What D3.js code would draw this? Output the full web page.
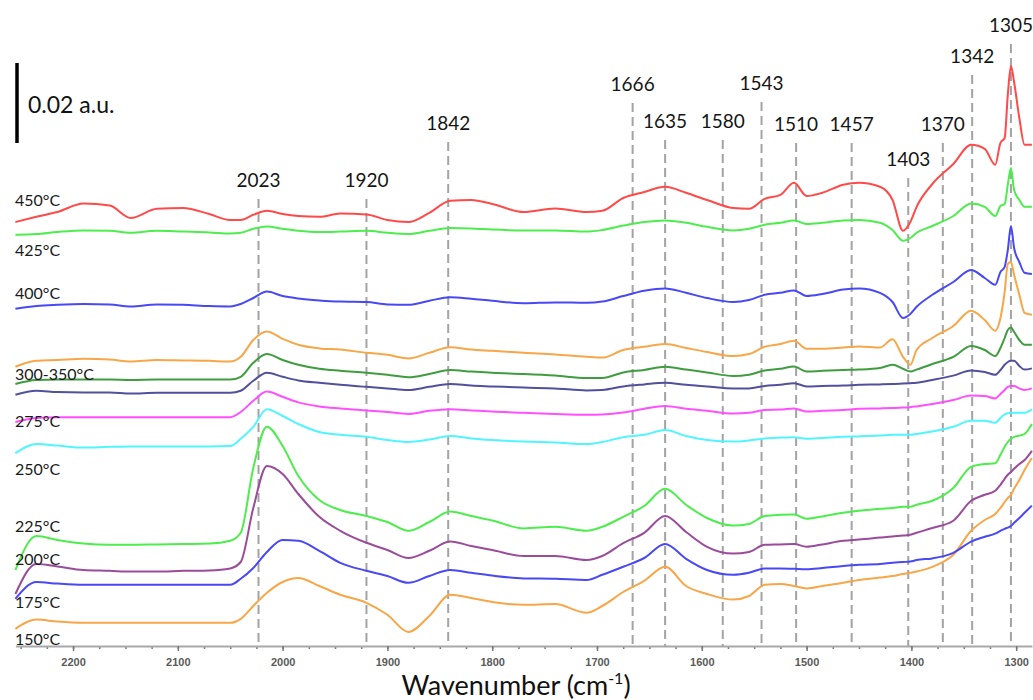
<!DOCTYPE html>
<html>
<head>
<meta charset="utf-8">
<script src="https://cdn.jsdelivr.net/npm/d3@7"></script>
<style>
  body { margin: 0; background: #fff; }
  svg { display: block; }
</style>
</head>
<body>
<svg id="chart" width="1033" height="700"></svg>
<script>
// Wavenumber grid (cm-1) shared by every spectrum
const wavenumbers = [
  2255, 2235, 2215, 2190, 2165, 2145, 2120, 2095, 2070, 2050,
  2040, 2028, 2015, 2000, 1985, 1965, 1945, 1920, 1900, 1880,
  1860, 1840, 1820, 1800, 1770, 1740, 1710, 1695, 1675, 1655,
  1635, 1615, 1595, 1570, 1555, 1540, 1525, 1512, 1500, 1485,
  1465, 1450, 1430, 1418, 1408, 1401, 1395, 1380, 1360, 1343,
  1330, 1320, 1315, 1311, 1308, 1305, 1302, 1297, 1292, 1285
];

// Stacked absorbance, in 10^-3 a.u. (offsets included)
const s450 = [
  106.0, 107.3, 108.5, 110.6, 110.1, 107.0, 109.3, 109.5, 108.0, 106.5,
  106.5, 107.8, 108.8, 108.0, 107.5, 107.3, 108.1, 107.9, 106.5, 106.0,
  108.3, 111.3, 111.5, 110.5, 108.5, 109.4, 108.5, 108.8, 112.0, 113.5,
  114.8, 113.3, 111.5, 109.5, 109.3, 111.8, 112.8, 115.8, 112.5, 113.3,
  115.3, 115.8, 114.8, 111.5, 103.8, 106.0, 109.8, 115.5, 120.5, 125.3,
  124.3, 120.3, 125.8, 127.0, 137.8, 145.0, 141.0, 132.0, 125.3, 125.3
];
const s425 = [
  102.8, 103.0, 103.5, 103.9, 103.8, 103.3, 103.8, 103.6, 103.4, 103.1,
  103.3, 104.3, 104.9, 104.3, 103.8, 103.5, 103.6, 103.8, 103.3, 103.0,
  103.8, 104.5, 104.4, 104.1, 103.9, 103.9, 103.6, 104.0, 105.1, 106.0,
  106.4, 105.8, 104.8, 103.9, 104.3, 105.3, 105.8, 106.4, 105.5, 105.8,
  106.4, 106.5, 105.8, 104.0, 101.3, 102.0, 103.3, 105.0, 107.5, 110.6,
  109.8, 107.5, 110.0, 110.5, 115.3, 119.5, 114.0, 111.5, 109.8, 109.8
];
const s400 = [
  84.3, 85.0, 85.3, 85.5, 85.4, 84.9, 85.4, 85.3, 85.0, 84.9,
  85.5, 87.0, 88.6, 87.5, 86.9, 86.4, 86.1, 86.0, 85.4, 85.3,
  86.3, 87.2, 86.8, 86.3, 85.7, 85.9, 85.8, 86.1, 87.5, 88.8,
  89.4, 88.3, 87.0, 86.0, 86.5, 87.8, 88.3, 88.9, 87.5, 88.0,
  89.1, 89.4, 88.3, 86.0, 82.0, 83.0, 84.8, 87.8, 91.0, 94.0,
  92.0, 90.3, 93.5, 94.8, 99.0, 105.0, 99.5, 96.0, 93.3, 93.0
];
const s350 = [
  69.8, 71.3, 71.5, 71.8, 71.6, 71.1, 71.5, 71.4, 71.3, 71.1,
  72.3, 76.5, 78.6, 76.8, 75.3, 74.4, 74.1, 73.3, 72.8, 71.9,
  73.3, 74.7, 74.1, 73.8, 73.3, 72.9, 72.3, 72.1, 74.0, 74.8,
  75.5, 74.5, 73.5, 72.5, 73.0, 74.8, 75.5, 76.3, 74.3, 74.3,
  74.6, 74.9, 74.6, 76.7, 72.3, 70.3, 74.0, 77.0, 80.0, 83.8,
  81.5, 78.8, 82.0, 88.5, 95.5, 96.0, 92.8, 87.8, 83.3, 82.8
];
const s325 = [
  65.5, 66.5, 66.6, 66.6, 66.6, 66.5, 66.6, 66.6, 66.6, 66.6,
  67.3, 70.8, 73.0, 71.5, 70.3, 69.3, 68.8, 68.3, 67.8, 67.2,
  68.0, 69.0, 68.6, 68.3, 68.0, 67.6, 67.0, 67.0, 68.4, 69.0,
  69.8, 69.1, 68.4, 67.5, 67.8, 68.9, 69.3, 69.9, 68.6, 68.8,
  69.0, 69.1, 69.5, 70.3, 69.3, 68.6, 69.1, 70.5, 72.3, 75.0,
  74.0, 72.5, 74.5, 77.0, 79.0, 79.6, 78.5, 76.5, 75.3, 75.3
];
const s300 = [
  62.8, 63.8, 63.5, 63.4, 63.4, 63.1, 63.3, 63.3, 63.3, 63.3,
  63.8, 66.3, 68.3, 67.3, 66.4, 65.8, 65.3, 64.8, 64.4, 64.0,
  64.8, 65.5, 65.1, 64.9, 64.6, 64.4, 63.9, 64.0, 64.9, 65.4,
  65.8, 65.3, 64.9, 64.4, 64.4, 65.0, 65.3, 65.7, 64.9, 65.0,
  65.1, 65.3, 65.4, 65.5, 65.6, 65.7, 65.8, 66.5, 67.6, 68.9,
  68.5, 67.8, 69.0, 70.3, 71.0, 71.3, 71.3, 70.0, 69.1, 69.4
];
const s275 = [
  56.0, 57.0, 57.2, 57.2, 57.2, 57.2, 57.2, 57.2, 57.2, 57.2,
  58.5, 61.3, 63.6, 62.3, 60.9, 59.9, 59.4, 58.9, 58.5, 58.0,
  58.8, 59.2, 58.9, 58.6, 58.3, 58.0, 57.8, 57.9, 58.4, 59.3,
  60.0, 59.3, 58.8, 58.1, 58.3, 59.0, 59.1, 59.4, 58.6, 58.8,
  59.0, 59.3, 59.4, 59.5, 59.6, 59.7, 59.9, 60.5, 61.5, 62.6,
  62.5, 61.9, 63.0, 64.0, 64.8, 65.0, 65.0, 64.4, 64.0, 64.4
];
const s250 = [
  48.2, 50.5, 50.1, 49.6, 49.8, 49.9, 49.9, 49.9, 49.9, 50.0,
  51.8, 54.8, 59.2, 57.5, 55.5, 53.5, 52.8, 52.3, 51.5, 51.0,
  51.6, 52.5, 51.9, 51.5, 51.1, 50.9, 50.5, 51.0, 52.2, 52.8,
  54.0, 52.5, 51.5, 51.1, 51.4, 51.9, 52.1, 52.2, 51.8, 52.0,
  52.3, 52.4, 52.6, 52.8, 52.8, 52.8, 53.0, 53.6, 54.8, 56.3,
  56.3, 55.8, 57.0, 57.9, 58.2, 58.3, 58.3, 58.3, 58.3, 59.2
];
const s225 = [
  19.0, 27.5, 26.5, 25.6, 25.3, 25.3, 25.4, 25.5, 25.6, 26.3,
  28.3, 44.5, 54.8, 50.0, 42.5, 36.5, 34.0, 32.5, 31.0, 28.8,
  31.0, 33.6, 32.5, 31.4, 29.4, 29.8, 28.8, 29.8, 32.3, 35.0,
  39.3, 35.3, 32.0, 30.1, 30.5, 32.5, 32.8, 32.9, 31.8, 32.4,
  33.3, 33.8, 34.3, 34.5, 34.8, 34.8, 35.3, 36.3, 39.5, 44.8,
  45.5, 45.7, 47.8, 49.8, 51.0, 51.8, 52.3, 52.6, 53.0, 55.5
];
const s200 = [
  13.0, 20.5, 19.9, 19.0, 18.8, 18.6, 18.6, 18.8, 18.9, 19.4,
  21.0, 34.5, 45.0, 43.0, 38.0, 32.3, 28.8, 25.8, 24.0, 22.0,
  23.8, 26.1, 25.0, 24.0, 22.5, 22.5, 21.5, 22.5, 25.7, 28.3,
  32.5, 28.5, 24.8, 23.1, 23.5, 25.3, 25.4, 25.5, 24.8, 25.4,
  26.3, 26.6, 27.1, 27.4, 27.6, 27.8, 28.3, 29.5, 31.3, 36.3,
  37.8, 38.8, 40.3, 41.8, 42.8, 43.5, 44.3, 45.5, 46.5, 48.8
];
const s175 = [
  11.8, 16.0, 15.6, 15.3, 15.3, 15.3, 15.3, 15.3, 15.3, 15.3,
  16.8, 19.5, 23.5, 26.5, 26.3, 23.8, 20.8, 18.8, 17.5, 15.8,
  17.5, 19.0, 18.3, 17.6, 16.9, 16.8, 16.5, 17.8, 19.8, 22.0,
  25.5, 21.8, 19.0, 17.8, 18.3, 19.4, 19.4, 19.3, 19.2, 19.5,
  20.0, 20.3, 20.5, 20.8, 21.0, 21.1, 21.5, 21.9, 23.3, 26.1,
  27.3, 28.1, 28.8, 29.3, 29.6, 30.0, 30.8, 32.0, 33.3, 35.1
];
const s150 = [
  4.3, 6.6, 6.1, 5.8, 5.8, 5.8, 5.8, 5.8, 5.8, 5.8,
  6.8, 10.0, 13.3, 16.0, 17.0, 15.0, 12.8, 10.8, 7.8, 3.5,
  7.5, 12.8, 12.0, 11.0, 10.3, 10.5, 8.3, 10.0, 13.5, 16.3,
  19.8, 15.0, 13.0, 11.6, 12.5, 15.3, 15.5, 15.0, 14.4, 15.0,
  15.8, 16.5, 17.1, 17.5, 18.0, 18.3, 18.6, 19.8, 22.8, 28.8,
  31.5, 33.0, 34.5, 36.0, 37.0, 37.8, 39.3, 41.5, 44.0, 47.0
];

const seriesNames = ["450°C", "425°C", "400°C", "350°C", "325°C", "300°C",
                     "275°C", "250°C", "225°C", "200°C", "175°C", "150°C"];
const seriesValues = [s450, s425, s400, s350, s325, s300,
                      s275, s250, s225, s200, s175, s150];

// Temperature captions on the left and the stacked level they sit at (10^-3 a.u.)
const tempLabels = ["450°C", "425°C", "400°C", "300-350°C", "275°C",
                    "250°C", "225°C", "200°C", "175°C", "150°C"];
const tempLabelLevels = [110, 97.5, 86.75, 66.5, 54.75, 42.75, 28.5, 20.25, 9.5, 0.3];

// Assigned band positions (cm-1)
const peaks = [2023, 1920, 1842, 1666, 1635, 1580, 1543, 1510, 1457, 1403, 1370, 1342, 1305];

// Axis ticks
const tickValues = [2200, 2100, 2000, 1900, 1800, 1700, 1600, 1500, 1400, 1300];
const minorTickValues = d3.range(2250, 1284, -25);

const scaleBarValue = 20; // 0.02 a.u.

// ---- styles & layout ----
const palette = ["#ff4a4a", "#4ded4d", "#4848f4", "#f7a648", "#3f9c3f", "#50509c",
                 "#ff50ff", "#50f5ff", "#4ded4d", "#9a4c9a", "#4848f4", "#f7a648"];
const peakLabelBaseline = [187, 187, 130, 91, 128, 128, 90, 131, 131, 166, 131, 63, 32];
const FONT = "Lato, 'Open Sans', sans-serif";

const svg = d3.select("#chart");
const x = d3.scaleLinear().domain([2255, 1285]).range([15.4, 1031.9]);
const y = d3.scaleLinear().domain([0, 160]).range([646, 6]);

// Dashed band markers
svg.append("g")
  .selectAll("line")
  .data(peaks)
  .join("line")
  .attr("x1", d => x(d)).attr("x2", d => x(d))
  .attr("y1", (d, i) => peakLabelBaseline[i] + 12)
  .attr("y2", y(0))
  .attr("stroke", "#a3a3a3")
  .attr("stroke-width", 2)
  .attr("stroke-dasharray", "9,5");

svg.append("g")
  .selectAll("text")
  .data(peaks)
  .join("text")
  .attr("x", d => x(d))
  .attr("y", (d, i) => peakLabelBaseline[i])
  .attr("text-anchor", "middle")
  .style("font-family", FONT)
  .style("font-size", "19px")
  .style("fill", "#151515")
  .text(d => d);

// Axis
const axisG = svg.append("g").attr("transform", `translate(0,${y(0)})`);
axisG.append("g")
  .call(d3.axisBottom(x).tickValues(minorTickValues).tickSize(3).tickFormat("").tickSizeOuter(0))
  .call(g => g.select(".domain").remove())
  .call(g => g.selectAll(".tick line").attr("stroke", "#777").attr("stroke-width", 1.5));
axisG.append("g")
  .call(d3.axisBottom(x).tickValues(tickValues).tickFormat(d3.format("d"))
    .tickSize(5).tickPadding(7).tickSizeOuter(0))
  .call(g => g.select(".domain").attr("stroke", "#a8a8a8").attr("stroke-width", 2))
  .call(g => g.selectAll(".tick line").attr("stroke", "#777").attr("stroke-width", 1.5))
  .call(g => g.selectAll(".tick text")
    .style("font-family", "'Liberation Sans', Arial, sans-serif")
    .style("font-size", "11px")
    .style("font-weight", "bold")
    .style("fill", "#5a5a5a"));

// Spectra, bottom to top
const line = d3.line()
  .x((d, i) => x(wavenumbers[i]))
  .y(d => y(d))
  .curve(d3.curveMonotoneX);

svg.append("g")
  .selectAll("path")
  .data(seriesValues.map((v, i) => ({ name: seriesNames[i], values: v, color: palette[i] })).reverse())
  .join("path")
  .attr("d", d => line(d.values))
  .attr("fill", "none")
  .attr("stroke", d => d.color)
  .attr("stroke-width", 2)
  .attr("stroke-linejoin", "round");

// Temperature captions
svg.append("g")
  .selectAll("text")
  .data(tempLabels)
  .join("text")
  .attr("x", 15)
  .attr("y", (d, i) => y(tempLabelLevels[i]))
  .style("font-family", FONT)
  .style("font-size", "16px")
  .style("fill", "#1a1a1a")
  .text(d => d);

// Scale bar
const barBottom = 143;
const barLen = y(0) - y(scaleBarValue);
svg.append("line")
  .attr("x1", 17).attr("x2", 17)
  .attr("y1", barBottom - barLen).attr("y2", barBottom)
  .attr("stroke", "#000").attr("stroke-width", 3.5);
svg.append("text")
  .attr("x", 28).attr("y", barBottom - barLen / 2 + 10)
  .style("font-family", FONT).style("font-size", "23px").style("fill", "#111")
  .text(`${(scaleBarValue / 1000).toFixed(2)} a.u.`);

// Axis title
const title = svg.append("text")
  .attr("x", 516).attr("y", 695)
  .attr("text-anchor", "middle")
  .style("font-family", FONT).style("font-size", "27px").style("fill", "#111");
title.append("tspan").text("Wavenumber (cm");
title.append("tspan").attr("dy", -11).style("font-size", "16px").text("-1");
title.append("tspan").attr("dy", 11).text(")");
</script>
</body>
</html>
